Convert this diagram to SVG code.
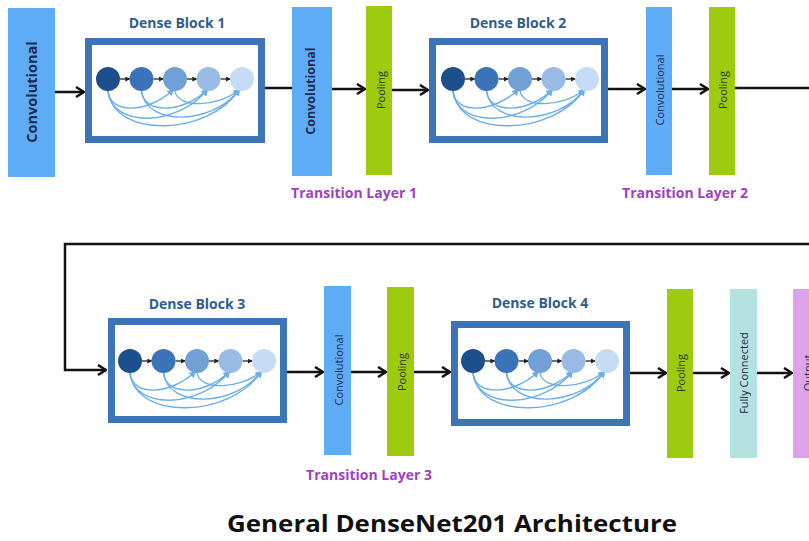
<svg xmlns="http://www.w3.org/2000/svg" width="809" height="541" viewBox="0 0 809 541">
<style>
.bg{fill:#ffffff}
.conv{fill:#5eabf6}
.pool{fill:#9dcb0f}
.fc{fill:#b3e2e0}
.out{fill:#dca2ec}
.frame{fill:#ffffff;stroke:#3d74b6;stroke-width:7}
.dbt{font-family:"Open Sans","DejaVu Sans",sans-serif;font-weight:700;font-size:14px;fill:#2f5d8c;text-anchor:middle}
.tl{font-family:"Open Sans","DejaVu Sans",sans-serif;font-weight:700;font-size:14px;fill:#a13fc0;text-anchor:middle}
.lbl{font-family:"Open Sans","DejaVu Sans",sans-serif;font-size:11px;fill:#1e2b4e;text-anchor:middle;dominant-baseline:central}
.lblb{font-family:"Open Sans","DejaVu Sans",sans-serif;font-weight:700;fill:#1e2b4e;text-anchor:middle;dominant-baseline:central}
.plbl{font-family:"Open Sans","DejaVu Sans",sans-serif;font-size:11px;fill:#2c3a1a;text-anchor:middle;dominant-baseline:central}
.title{font-family:"Open Sans","DejaVu Sans",sans-serif;font-weight:700;font-size:23px;fill:#111111;text-anchor:middle}
.wire{fill:none;stroke:#111111;stroke-width:2.5}
.skip{fill:none;stroke:#6aaeea;stroke-width:1.4}
.step{fill:none;stroke:#222222;stroke-width:1.3}
</style>
<defs>
<marker id="ah" viewBox="0 0 10 12" refX="9" refY="6" markerWidth="10" markerHeight="12" markerUnits="userSpaceOnUse" orient="auto">
<path d="M1,1 L9,6 L1,11" fill="none" stroke="#111111" stroke-width="2.5"/>
</marker>
<marker id="sa" viewBox="0 0 6 6" refX="5" refY="3" markerWidth="5" markerHeight="5" markerUnits="userSpaceOnUse" orient="auto">
<path d="M0,0 L6,3 L0,6 Z" fill="#222222"/>
</marker>
<marker id="ba" viewBox="0 0 8 8" refX="6" refY="4" markerWidth="7" markerHeight="7" markerUnits="userSpaceOnUse" orient="auto">
<path d="M0,0 L8,4 L0,8 Z" fill="#6aaeea"/>
</marker>
<g id="net">
<path class="skip" d="M0,12 C2,36 40,34 65,11" marker-end="url(#ba)"/>
<path class="skip" d="M0,12 C4,50 70,47 99,11" marker-end="url(#ba)"/>
<path class="skip" d="M0,12 C6,60 100,57 131,11" marker-end="url(#ba)"/>
<path class="skip" d="M33.5,12 C36,36 75,34 99,11" marker-end="url(#ba)"/>
<path class="skip" d="M33.5,12 C38,48 105,46 131,11" marker-end="url(#ba)"/>
<path class="skip" d="M67,12 C70,30 110,28 131,11" marker-end="url(#ba)"/>
<line class="step" x1="12" y1="0" x2="21.5" y2="0" marker-end="url(#sa)"/>
<line class="step" x1="45.5" y1="0" x2="55" y2="0" marker-end="url(#sa)"/>
<line class="step" x1="79" y1="0" x2="88.5" y2="0" marker-end="url(#sa)"/>
<line class="step" x1="112.5" y1="0" x2="122" y2="0" marker-end="url(#sa)"/>
<circle cx="0" cy="0" r="12" fill="#1e4f8d"/>
<circle cx="33.5" cy="0" r="12" fill="#3a73b8"/>
<circle cx="67" cy="0" r="12" fill="#70a0d6"/>
<circle cx="100.5" cy="0" r="12" fill="#99bbe5"/>
<circle cx="134" cy="0" r="12" fill="#c6dbf5"/>
</g>
</defs>
<rect class="bg" x="0" y="0" width="809" height="541"/>

<g id="connectors">
<line class="wire" x1="55" y1="92" x2="84" y2="92" marker-end="url(#ah)"/>
<line class="wire" x1="265" y1="88" x2="292" y2="88"/>
<line class="wire" x1="332" y1="89" x2="365" y2="89" marker-end="url(#ah)"/>
<line class="wire" x1="392" y1="90" x2="428" y2="90" marker-end="url(#ah)"/>
<line class="wire" x1="608" y1="89" x2="645" y2="89" marker-end="url(#ah)"/>
<line class="wire" x1="672" y1="89" x2="708" y2="89" marker-end="url(#ah)"/>
<line class="wire" x1="735" y1="88" x2="812" y2="88"/>
<polyline class="wire" points="812,244 65,244 65,370 106,370" marker-end="url(#ah)"/>
<line class="wire" x1="287" y1="372" x2="323" y2="372" marker-end="url(#ah)"/>
<line class="wire" x1="351" y1="372" x2="386" y2="372" marker-end="url(#ah)"/>
<line class="wire" x1="414" y1="372" x2="450" y2="372" marker-end="url(#ah)"/>
<line class="wire" x1="630" y1="373" x2="666" y2="373" marker-end="url(#ah)"/>
<line class="wire" x1="693" y1="373" x2="729" y2="373" marker-end="url(#ah)"/>
<line class="wire" x1="757" y1="373" x2="792" y2="373" marker-end="url(#ah)"/>
</g>

<g id="conv0">
<rect class="conv" x="8" y="8" width="47" height="169"/>
<text class="lblb" font-size="14.5" transform="translate(31,92) rotate(-90)">Convolutional</text>
</g>

<g id="dense1">
<text class="dbt" x="177" y="28">Dense Block 1</text>
<rect class="frame" x="88.5" y="41.5" width="173" height="98"/>
<use href="#net" x="108" y="79"/>
</g>

<g id="t1conv">
<rect class="conv" x="292" y="7" width="40" height="169"/>
<text class="lblb" font-size="12.5" transform="translate(310,91) rotate(-90)">Convolutional</text>
</g>
<g id="t1pool">
<rect class="pool" x="366" y="6" width="26" height="169"/>
<text class="plbl" transform="translate(380,90) rotate(-90)">Pooling</text>
</g>
<text id="tl1" class="tl" x="354" y="198">Transition Layer 1</text>

<g id="dense2">
<text class="dbt" x="518" y="28">Dense Block 2</text>
<rect class="frame" x="432.5" y="41.5" width="172" height="98"/>
<use href="#net" x="453" y="79"/>
</g>

<g id="t2conv">
<rect class="conv" x="646" y="7" width="26" height="168"/>
<text class="lbl" transform="translate(659,90) rotate(-90)">Convolutional</text>
</g>
<g id="t2pool">
<rect class="pool" x="709" y="7" width="26" height="168"/>
<text class="plbl" transform="translate(722,90) rotate(-90)">Pooling</text>
</g>
<text id="tl2" class="tl" x="685" y="198">Transition Layer 2</text>

<g id="dense3">
<text class="dbt" x="197" y="309">Dense Block 3</text>
<rect class="frame" x="111.5" y="321.5" width="172" height="98"/>
<use href="#net" x="130" y="361"/>
</g>

<g id="t3conv">
<rect class="conv" x="324" y="286" width="27" height="169"/>
<text class="lbl" transform="translate(338,370) rotate(-90)">Convolutional</text>
</g>
<g id="t3pool">
<rect class="pool" x="387" y="287" width="27" height="169"/>
<text class="plbl" transform="translate(401,372) rotate(-90)">Pooling</text>
</g>
<text id="tl3" class="tl" x="369" y="480">Transition Layer 3</text>

<g id="dense4">
<text class="dbt" x="540" y="308">Dense Block 4</text>
<rect class="frame" x="454.5" y="324.5" width="172" height="98"/>
<use href="#net" x="473" y="361"/>
</g>

<g id="pool4">
<rect class="pool" x="667" y="289" width="26" height="169"/>
<text class="plbl" transform="translate(680,373) rotate(-90)">Pooling</text>
</g>
<g id="fc">
<rect class="fc" x="730" y="289" width="27" height="169"/>
<text class="lbl" transform="translate(743,373) rotate(-90)">Fully Connected</text>
</g>
<g id="output">
<rect class="out" x="793" y="289" width="30" height="169"/>
<text class="lbl" transform="translate(807,373) rotate(-90)">Output</text>
</g>

<text id="title" class="title" x="452" y="532" textLength="450" lengthAdjust="spacingAndGlyphs">General DenseNet201 Architecture</text>
</svg>
